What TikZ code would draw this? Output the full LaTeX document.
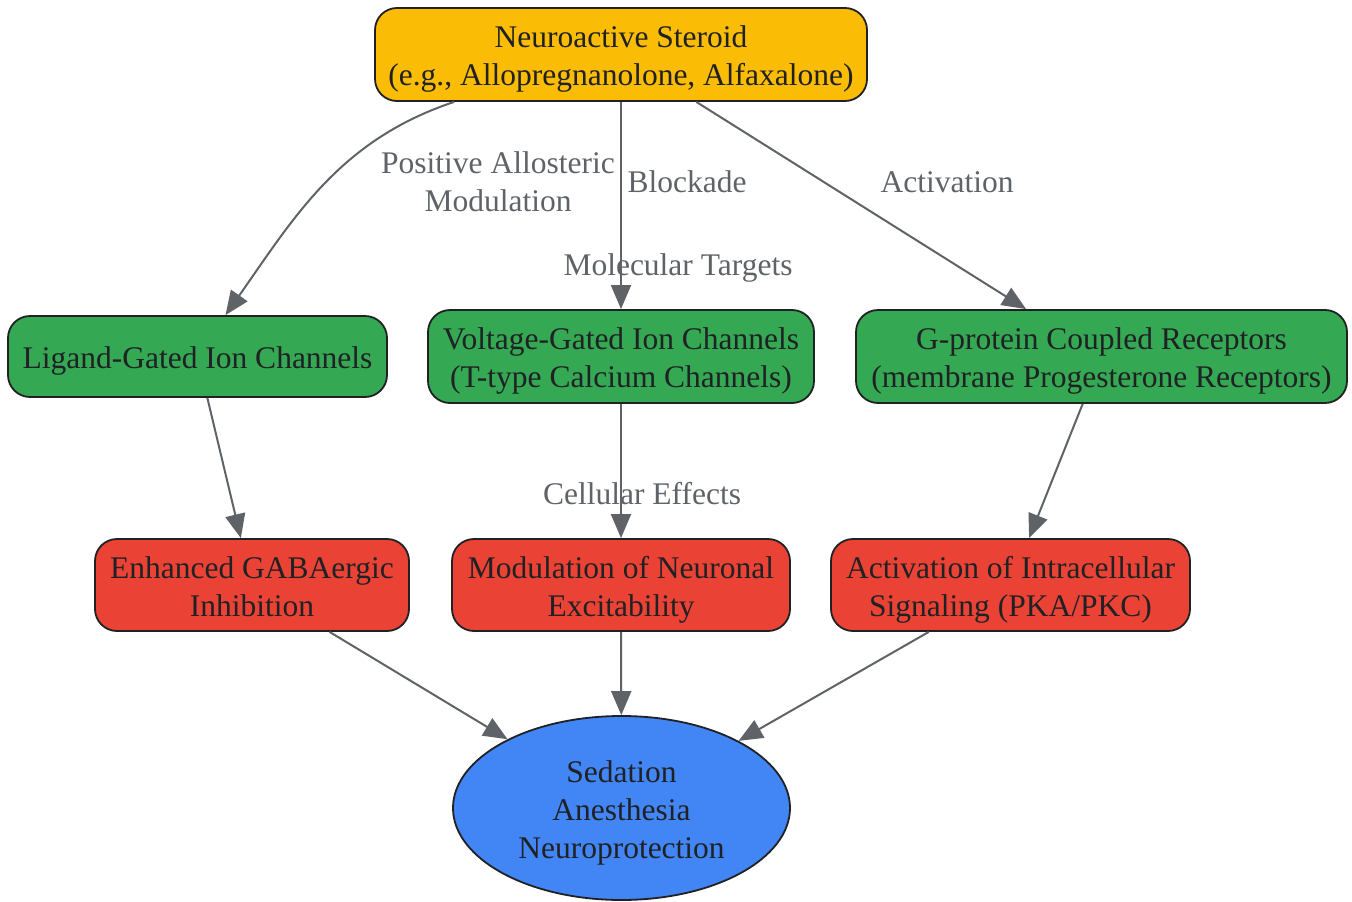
\documentclass[tikz,border=0pt]{standalone}
\usepackage{fontspec}
\setmainfont{Liberation Serif}
\usetikzlibrary{arrows.meta,shapes.geometric}
\definecolor{cyel}{HTML}{FBBC05}
\definecolor{cgrn}{HTML}{34A853}
\definecolor{cred}{HTML}{EA4335}
\definecolor{cblu}{HTML}{4285F4}
\definecolor{cdark}{HTML}{202124}
\definecolor{cgray}{HTML}{5F6368}
\begin{document}
\begin{tikzpicture}[x=1pt,y=-1pt,
  txt/.style={font=\fontsize{31.5}{38}\selectfont},
  box/.style={draw=cdark, line width=1.8pt, rounded corners=22pt, inner sep=0pt},
  oval/.style={ellipse, draw=cdark, line width=1.8pt, inner sep=0pt, fill=cblu},
  intext/.style={txt, text=cdark, align=center, inner sep=0pt, yshift=-4.5pt},
  edge/.style={draw=cgray, line width=2pt, -{Triangle[length=24pt,width=20pt]}},
  lbl/.style={txt, text=cgray, align=center, inner sep=0pt}]
\useasboundingbox (0,0) rectangle (1352,902);
% nodes
\node[box, fill=cyel, minimum width=492pt, minimum height=93pt,
  label={[intext]center:{Neuroactive Steroid\\(e.g., Allopregnanolone, Alfaxalone)}}] (top) at (621,54.5) {};
\node[box, fill=cgrn, minimum width=379pt, minimum height=81pt,
  label={[intext]center:{Ligand-Gated Ion Channels}}] (lig) at (197.5,356.5) {};
\node[box, fill=cgrn, minimum width=386pt, minimum height=93pt,
  label={[intext]center:{Voltage-Gated Ion Channels\\(T-type Calcium Channels)}}] (volt) at (621,356.5) {};
\node[box, fill=cgrn, minimum width=491pt, minimum height=93pt,
  label={[intext]center:{G-protein Coupled Receptors\\(membrane Progesterone Receptors)}}] (gpcr) at (1101.5,356.5) {};
\node[box, fill=cred, minimum width=314pt, minimum height=92pt,
  label={[intext, yshift=3pt]center:{Enhanced GABAergic\\Inhibition}}] (gaba) at (252,585) {};
\node[box, fill=cred, minimum width=338pt, minimum height=92pt,
  label={[intext]center:{Modulation of Neuronal\\Excitability}}] (mod) at (621,585) {};
\node[box, fill=cred, minimum width=359pt, minimum height=92pt,
  label={[intext]center:{Activation of Intracellular\\Signaling (PKA/PKC)}}] (act) at (1010.5,585) {};
\node[oval, minimum width=337pt, minimum height=184pt,
  label={[intext]center:{Sedation\\Anesthesia\\Neuroprotection}}] (out) at (621.5,808) {};
% edges
\draw[edge] ([xshift=80pt]top.south west) .. controls (340,140) and (295,216) .. ([xshift=28pt]lig.north);
\draw[edge] (top) -- (volt);
\draw[edge] (top) -- (gpcr);
\draw[edge] (lig) -- (gaba);
\draw[edge] (volt) -- (mod);
\draw[edge] (gpcr) -- (act);
\draw[edge] (gaba) -- (out);
\draw[edge] (mod) -- (out);
\draw[edge] (act) -- (out);
% labels
\node[lbl] (lpam) at (498,182) {Positive Allosteric\\Modulation};
\node[lbl] (lblk) at (687,182) {Blockade};
\node[lbl] (lact) at (947,182) {Activation};
\node[lbl] (lmol) at (678,268) {Molecular Targets};
\node[lbl] (lcel) at (642,494) {Cellular Effects};
\end{tikzpicture}
\end{document}
